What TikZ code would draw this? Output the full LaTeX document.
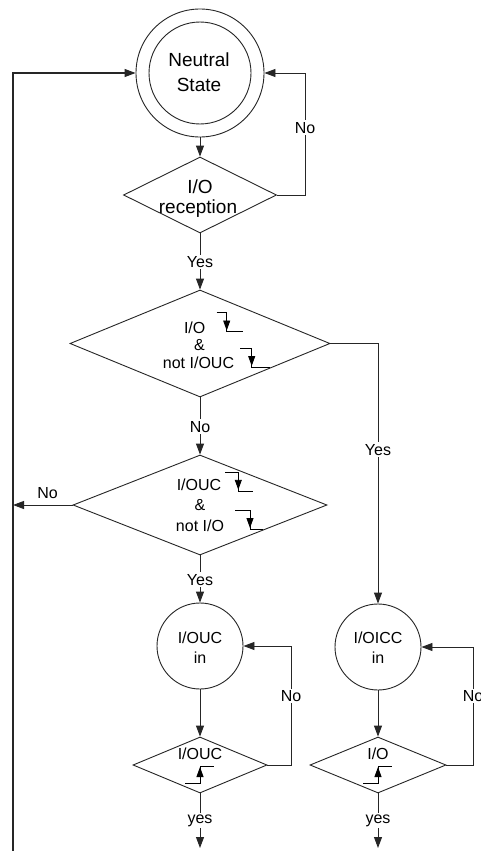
\documentclass[tikz,border=0pt]{standalone}
\usepackage{fontspec}
\setmainfont{Liberation Sans}
\usetikzlibrary{arrows.meta,shapes.geometric}
\tikzset{
  ln/.style={line width=0.9pt, draw=black!85},
  arr/.style={ln, -{Triangle[length=11pt,width=8pt]}},
  big/.style={font=\fontsize{19}{23}\selectfont, anchor=base, inner sep=0pt},
  med/.style={font=\fontsize{16}{19}\selectfont, anchor=base, inner sep=0pt},
  lbl/.style={font=\fontsize{16}{19}\selectfont, anchor=base, fill=white, inner sep=1.5pt},
  dia/.style={shape=diamond, draw=black!85, line width=0.9pt, inner sep=0pt},
  circ/.style={shape=circle, draw=black!85, line width=0.9pt, inner sep=0pt},
  sig/.style={line width=0.9pt, draw=black},
  sigarr/.style={line width=0.9pt, -{Triangle[length=10pt,width=7pt]}},
}
\begin{document}
\begin{tikzpicture}[x=1pt,y=-1pt]
\clip (0,0) rectangle (480,851);
\fill[white] (0,0) rectangle (480,851);

% Neutral state
\node[circ, minimum size=128pt] (ns) at (200,73) {};
\node[circ, minimum size=102pt] (nsin) at (200,73) {};
\node[big] (t1) at (199,66.7) {Neutral};
\node[big] (t2) at (199,91.5) {State};

% decision 1
\node[dia, minimum width=153pt, minimum height=76pt] (d1) at (200,195) {};
\node[big] (t3) at (200,193) {I/O};
\node[big] (t4) at (198,213.5) {reception};

% decision 2
\node[dia, minimum width=260pt, minimum height=107pt] (d2) at (200,343.5) {};
\node[med] (t5) at (194.7,333) {I/O};
\node[med] (t6) at (199.5,350) {\&};
\node[med] (t7) at (198.5,368) {not I/OUC};

% decision 3
\node[dia, minimum width=254pt, minimum height=100pt] (d3) at (200,505) {};
\node[med] (t8) at (199,490) {I/OUC};
\node[med] (t9) at (200,510) {\&};
\node[med] (t10) at (200,531) {not I/O};

% states
\node[circ, minimum size=86pt] (c1) at (200,646) {};
\node[med] (t11) at (200,643.3) {I/OUC};
\node[med] (t12) at (200,663.3) {in};
\node[circ, minimum size=86pt] (c2) at (378,647) {};
\node[med] (t13) at (378,643.3) {I/OICC};
\node[med] (t14) at (378,663.3) {in};

% decisions 4 and 5
\node[dia, minimum width=134pt, minimum height=56pt] (d4) at (200,765) {};
\node[med] (t15) at (200,759) {I/OUC};
\node[dia, minimum width=136pt, minimum height=56pt] (d5) at (378,765) {};
\node[med] (t16) at (378,759) {I/O};

% edge symbols (falling)
\draw[sig] (216.7,312.3) -- (226.7,312.3) -- (226.7,331.7) -- (243.3,331.7);
\draw[sigarr] (226.7,312.3) -- (226.7,330.5);
\draw[sig] (240,348.3) -- (251.7,348.3) -- (251.7,367.3) -- (270,367.3);
\draw[sigarr] (251.7,348.3) -- (251.7,366);
\draw[sig] (225,472.3) -- (238.3,472.3) -- (238.3,491) -- (253.3,491);
\draw[sigarr] (238.3,472.3) -- (238.3,489.8);
\draw[sig] (235,510) -- (250,510) -- (250,529.3) -- (263.3,529.3);
\draw[sigarr] (250,510) -- (250,528);
% edge symbols (rising)
\draw[sig] (185,783) -- (200,783) -- (200,766) -- (214,766);
\draw[sigarr] (200,783) -- (200,767);
\draw[sig] (363,783) -- (378,783) -- (378,766) -- (392,766);
\draw[sigarr] (378,783) -- (378,767);

% coordinates
\coordinate (r1) at (305,195);
\coordinate (lb) at (13,851);
\coordinate (r4) at (291,765);
\coordinate (r5) at (473,765);
\coordinate (e4) at (200,848);
\coordinate (e5) at (378,848);

% connectors
\draw[arr] (ns.south) -- (d1.north);
\draw[arr] (d1.east) -- (r1) |- (ns.east);
\draw[arr] (d1.south) -- (d2.north);
\draw[arr] (d2.south) -- (d3.north);
\draw[arr] (d2.east) -| (c2.north);
\draw[arr] (d3.west) -- (d3.west -| lb);
\draw[arr, line width=1.2pt] (lb) |- (ns.west);
\draw[arr] (d3.south) -- (c1.north);
\draw[arr] (c1.south) -- (d4.north);
\draw[arr] (d4.east) -- (r4) |- (c1.east);
\draw[arr] (d4.south) -- (e4);
\draw[arr] (c2.south) -- (d5.north);
\draw[arr] (d5.east) -- (r5) |- (c2.east);
\draw[arr] (d5.south) -- (e5);

% labels
\node[lbl] (l1) at (305,133) {No};
\node[lbl] (l2) at (200,267.5) {Yes};
\node[lbl] (l3) at (200,432) {No};
\node[lbl] (l4) at (378,455) {Yes};
\node[lbl] (l5) at (47.5,498) {No};
\node[lbl] (l6) at (200,585) {Yes};
\node[lbl] (l7) at (291,701.5) {No};
\node[lbl] (l8) at (473,701.5) {No};
\node[lbl] (l9) at (200,823) {yes};
\node[lbl] (l10) at (378,823) {yes};
\end{tikzpicture}
\end{document}
